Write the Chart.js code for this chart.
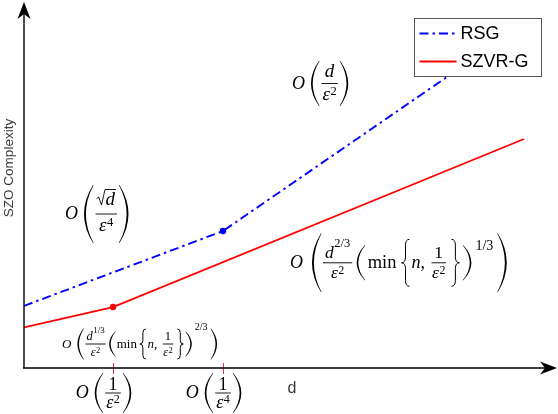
<!DOCTYPE html>
<html>
<head>
<meta charset="utf-8">
<script src="https://cdn.jsdelivr.net/npm/chart.js@4.4.0/dist/chart.umd.min.js"></script>
<style>
  html, body { margin: 0; padding: 0; background: #fff; }
  #wrap { width: 558px; height: 414px; }
</style>
</head>
<body>
<div id="wrap"><canvas id="chart"></canvas></div>
<script>
// Data (arbitrary units: d along x, complexity along y, both 0..100)
const rsgX = [0, 37.48, 94.16];
const rsgY = [17.1, 37.74, 94.77];
const szvrX = [0, 16.76, 94.16];
const szvrY = [11.2, 16.8, 63.09];
const tickX = [16.76, 37.48];          // O(1/eps^2), O(1/eps^4)
const seriesNames = ['RSG', 'SZVR-G'];

const SERIF = '"Liberation Serif", "DejaVu Serif", serif';
const SANS = '"Liberation Sans", Arial, Helvetica, sans-serif';
const mctx = document.createElement('canvas').getContext('2d');

// --- tiny math layout helpers (boxes measured from the baseline) ---
function T(s, size, italic) {
  const font = (italic ? 'italic ' : '') + size + 'px ' + SERIF;
  mctx.font = font;
  const m = mctx.measureText(s);
  return {
    w: m.width, h: m.actualBoundingBoxAscent, d: Math.max(0, m.actualBoundingBoxDescent),
    draw(c, x, y) { c.font = font; c.textAlign = 'left'; c.textBaseline = 'alphabetic'; c.fillText(s, x, y); }
  };
}
function Sp(w) { return { w, h: 0, d: 0, draw() {} }; }
function Row(items) {
  let w = 0, h = 0, d = 0;
  items.forEach(b => { w += b.w; h = Math.max(h, b.h); d = Math.max(d, b.d); });
  return { w, h, d, draw(c, x, y) { let cx = x; items.forEach(b => { b.draw(c, cx, y); cx += b.w; }); } };
}
function Sup(base, exp, rise, gap = 0.5) {
  return {
    w: base.w + exp.w + gap, h: Math.max(base.h, rise + exp.h), d: base.d,
    draw(c, x, y) { base.draw(c, x, y); exp.draw(c, x + base.w + gap, y - rise); }
  };
}
// nUp / dDown: distance from the bar to numerator / denominator baselines
function Frac(num, den, axis, nUp, dDown, extra = 3) {
  const w = Math.max(num.w, den.w) + extra;
  return {
    w, h: axis + nUp + num.h, d: dDown + den.d - axis,
    draw(c, x, y) {
      const by = y - axis;
      num.draw(c, x + (w - num.w) / 2, by - nUp);
      den.draw(c, x + (w - den.w) / 2, by + dDown);
      c.fillRect(x + 0.5, by - 0.45, w - 1, 0.9);
    }
  };
}
function Sqrt(inner) {
  return {
    w: inner.w + 10, h: inner.h + 3, d: inner.d,
    draw(c, x, y) {
      const top = y - inner.h - 2;
      c.save(); c.lineWidth = 0.9; c.beginPath();
      c.moveTo(x, y - inner.h * 0.45); c.lineTo(x + 2.2, y - inner.h * 0.58);
      c.lineTo(x + 5, y + inner.d + 0.5); c.lineTo(x + 8.5, top); c.lineTo(x + 10 + inner.w, top);
      c.stroke(); c.restore();
      inner.draw(c, x + 9, y);
    }
  };
}
function drawDelim(c, x, top, bot, pw, kind, right) {
  const fx = X => right ? 2 * x + pw - X : X;
  const mid = (top + bot) / 2;
  c.beginPath();
  if (kind === '(') {
    const th = 0.9 + (bot - top) * 0.012;
    c.moveTo(fx(x + pw), top);
    c.quadraticCurveTo(fx(x - pw), mid, fx(x + pw), bot);
    c.lineTo(fx(x + pw + 0.6), bot);
    c.quadraticCurveTo(fx(x - pw + 2 * th), mid, fx(x + pw + 0.6), top);
    c.closePath(); c.fill();
  } else {
    const xm = x + pw / 2, r = Math.min(pw, (bot - top) / 8);
    c.save(); c.lineWidth = 1;
    c.moveTo(fx(x + pw), top);
    c.quadraticCurveTo(fx(xm), top, fx(xm), top + r);
    c.lineTo(fx(xm), mid - r);
    c.quadraticCurveTo(fx(xm), mid, fx(x), mid);
    c.quadraticCurveTo(fx(xm), mid, fx(xm), mid + r);
    c.lineTo(fx(xm), bot - r);
    c.quadraticCurveTo(fx(xm), bot, fx(x + pw), bot);
    c.stroke(); c.restore();
  }
}
function Fence(inner, axis, H, kind, pw, sp = 1.5) {
  const lw = pw + sp + 1;
  return {
    w: inner.w + 2 * lw, h: axis + H / 2, d: H / 2 - axis,
    draw(c, x, y) {
      const top = y - axis - H / 2, bot = y - axis + H / 2;
      drawDelim(c, x + 1, top, bot, pw, kind, false);
      inner.draw(c, x + lw, y);
      drawDelim(c, x + lw + inner.w + sp, top, bot, pw, kind, true);
    }
  };
}
const eps = (s, e, es, rise) => Sup(T('\u03b5', s, true), T(e, es), rise);

// O(sqrt(d)/eps^4)
const ax1 = 5;
const e1 = Row([T('O', 18, true), Sp(5),
  Fence(Frac(Sqrt(T('d', 19, true)), eps(19, '4', 12.5, 5), ax1, 9.5, 17), ax1, 58, '(', 9, 2)]);
// O(d/eps^2)
const e2 = Row([T('O', 18, true), Sp(5),
  Fence(Frac(T('d', 19, true), eps(19, '2', 12.5, 5), ax1, 7, 16), ax1, 45, '(', 8, 2)]);
// O(d^{2/3}/eps^2 (min{n, 1/eps^2})^{1/3})
const ax3 = 5.3;
const inner3 = Fence(Row([T('min', 18.5), Sp(4),
  Fence(Row([T('n', 18, true), T(',', 18), Sp(6),
    Frac(T('1', 17.5), eps(17.5, '2', 12, 4), ax3, 5, 15.5, 2), Sp(3)]), ax3, 47, '{', 8, 2)]),
  ax3, 35, '(', 8, 3);
const e3 = Row([T('O', 18, true), Sp(8),
  Fence(Row([Frac(Sup(T('d', 17.5, true), T('2/3', 12.5), 11), eps(17.5, '2', 12, 4), ax3, 5, 15.5, 5), Sp(3),
    Sup(inner3, T('1/3', 14), 18, 3), Sp(3)]), ax3, 59, '(', 9, 1.5)]);
// small: O(d^{1/3}/eps^2 (min{n, 1/eps^2})^{2/3})
const ax4 = 3.8;
const inner4 = Fence(Row([T('min', 13), Sp(2),
  Fence(Row([T('n', 13, true), T(',', 13), Sp(5),
    Frac(T('1', 12.5), eps(12.5, '2', 8.5, 3), ax4, 4, 12, 2), Sp(2)]), ax4, 30, '{', 6, 1.5)]),
  ax4, 25, '(', 6, 1.5);
const e4 = Row([T('O', 13, true), Sp(5),
  Fence(Row([Frac(Sup(T('d', 12.5, true), T('1/3', 9), 7.5), eps(12.5, '2', 8.5, 3), ax4, 4, 12, 3), Sp(2),
    Sup(inner4, T('2/3', 10), 17.5, 2), Sp(2)]), ax4, 31, '(', 6, 1.5)]);

// tick labels O(1/eps^k), anchored on the fraction centre
function tickLabel(k) {
  const O = T('O', 18, true), fr = Frac(T('1', 18), eps(18, k, 12, 5), ax1, 3.5, 15);
  const f = Fence(fr, ax1, 40, '(', 8, 2);
  return { box: Row([O, Sp(5), f]), anchor: O.w + 5 + 8 + 2 + 1 + fr.w / 2 };
}
const tickLabels = [tickLabel('2'), tickLabel('4')];

// annotation anchors in data units (left edge, math axis)
const notes = [
  { box: e1, x: 7.72, y: 42.42, ax: ax1 },
  { box: e2, x: 50.47, y: 78.37, ax: ax1 },
  { box: e3, x: 50.09, y: 28.98, ax: ax3 },
  { box: e4, x: 7.16, y: 6.61, ax: ax4 }
];

const decor = {
  id: 'decor',
  afterDatasetsDraw(chart) {
    const c = chart.ctx, a = chart.chartArea, xs = chart.scales.x, ys = chart.scales.y;
    c.save();

    // tick marks
    c.strokeStyle = 'rgba(215,30,50,0.9)'; c.lineWidth = 1;
    tickX.forEach(v => {
      const px = Math.round(xs.getPixelForValue(v)) + 0.5;
      c.beginPath(); c.moveTo(px, a.bottom - 5); c.lineTo(px, a.bottom + 6); c.stroke();
    });

    // axes with arrows
    c.strokeStyle = '#000'; c.fillStyle = '#000'; c.lineWidth = 1.4;
    c.beginPath();
    c.moveTo(a.left - 1, a.bottom); c.lineTo(a.right - 6, a.bottom);
    c.moveTo(a.left, a.bottom); c.lineTo(a.left, a.top + 8);
    c.stroke();
    c.beginPath();
    c.moveTo(a.right + 2, a.bottom); c.lineTo(a.right - 15, a.bottom - 6.5);
    c.lineTo(a.right - 10, a.bottom); c.lineTo(a.right - 15, a.bottom + 6.5); c.closePath(); c.fill();
    c.beginPath();
    c.moveTo(a.left, a.top - 3); c.lineTo(a.left - 6.5, a.top + 14);
    c.lineTo(a.left, a.top + 9); c.lineTo(a.left + 6.5, a.top + 14); c.closePath(); c.fill();

    // axis titles
    c.fillStyle = '#3a3a3a';
    c.font = '16px ' + SANS; c.textAlign = 'center'; c.textBaseline = 'middle';
    c.fillText('d', 292, a.bottom + 21);
    c.save(); c.translate(9, 168); c.rotate(-Math.PI / 2);
    c.font = '13.5px ' + SANS; c.fillText('SZO Complexity', 0, 0); c.restore();

    // math annotations
    c.fillStyle = '#000'; c.strokeStyle = '#000';
    notes.forEach(n => n.box.draw(c, xs.getPixelForValue(n.x), ys.getPixelForValue(n.y) + n.ax));
    tickLabels.forEach((t, i) => t.box.draw(c, xs.getPixelForValue(tickX[i]) - t.anchor, a.bottom + 25 + ax1));

    // legend
    const lx = 414.5, ly = 18.5, lw = 127, lh = 58;
    c.fillStyle = '#fff'; c.fillRect(lx, ly, lw, lh);
    c.strokeStyle = '#555'; c.lineWidth = 1; c.strokeRect(lx, ly, lw, lh);
    chart.data.datasets.forEach((ds, i) => {
      const yy = ly + 15 + i * 28;
      c.strokeStyle = ds.borderColor; c.lineWidth = ds.borderWidth;
      c.setLineDash(ds.borderDash || []);
      c.beginPath(); c.moveTo(lx + 5, yy); c.lineTo(lx + 42, yy); c.stroke();
      c.setLineDash([]);
      c.fillStyle = '#000'; c.font = '18px ' + SANS; c.textAlign = 'left'; c.textBaseline = 'middle';
      c.fillText(ds.label, lx + 46, yy + 1);
    });
    c.restore();
  }
};

const toPts = (xsArr, ysArr) => xsArr.map((x, i) => ({ x, y: ysArr[i] }));

new Chart(document.getElementById('chart'), {
  type: 'line',
  data: {
    datasets: [
      { label: seriesNames[0], data: toPts(rsgX, rsgY), borderColor: '#0000ff', backgroundColor: '#0000ff',
        borderWidth: 1.9, borderDash: [9, 4, 2.5, 4], pointRadius: [0, 3.2, 0], pointBorderWidth: 0, tension: 0 },
      { label: seriesNames[1], data: toPts(szvrX, szvrY), borderColor: '#ff0000', backgroundColor: '#ff0000',
        borderWidth: 1.8, pointRadius: [0, 3.2, 0], pointBorderWidth: 0, tension: 0 }
    ]
  },
  options: {
    responsive: true,
    maintainAspectRatio: false,
    animation: false,
    layout: { padding: { left: 24, right: 3, top: 5, bottom: 46 } },
    scales: {
      x: { type: 'linear', min: 0, max: 100, display: false },
      y: { min: 0, max: 100, display: false }
    },
    plugins: { legend: { display: false }, tooltip: { enabled: false } }
  },
  plugins: [decor]
});
</script>
</body>
</html>
